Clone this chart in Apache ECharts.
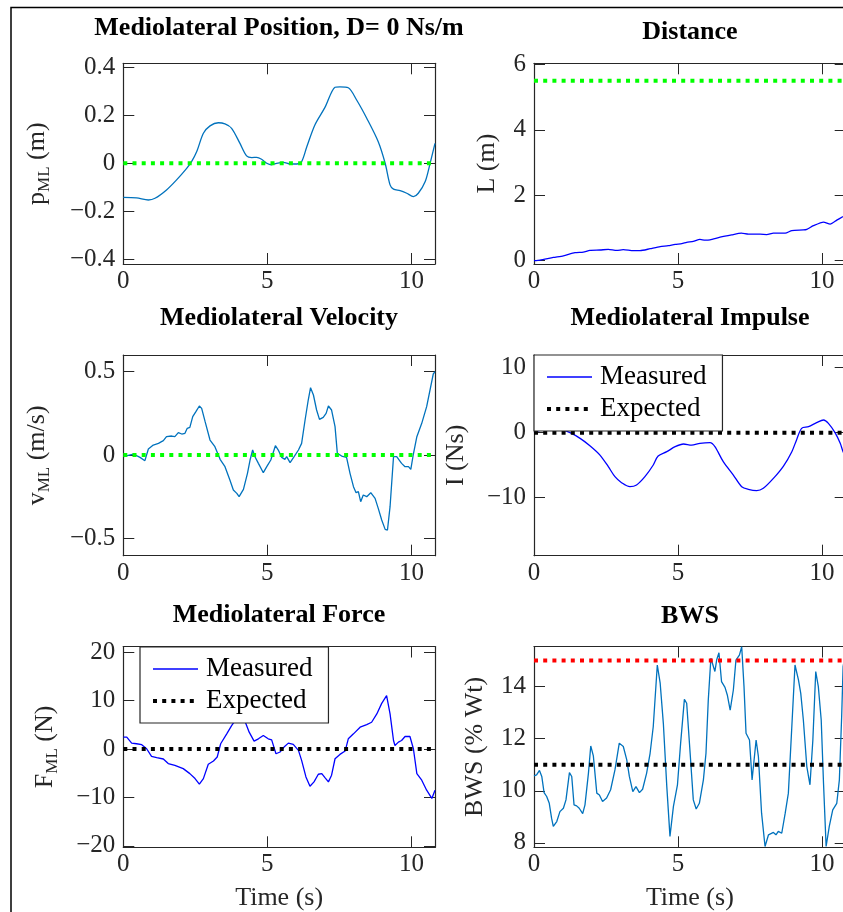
<!DOCTYPE html>
<html><head><meta charset="utf-8">
<script src="https://cdn.jsdelivr.net/npm/echarts@6/dist/echarts.min.js"></script>
<style>html,body{margin:0;padding:0;background:#fff}#c{width:843px;height:912px}</style>
</head><body><div id="c"></div>
<script>
// ---------- data ----------
const xTicks = [0, 5, 10];
const tEnd = 10.82;

const posT = [0,0.46,0.87,1.1,1.5,1.85,2.2,2.37,2.55,2.78,3.01,3.3,3.53,3.76,4.05,4.28,4.46,4.63,4.8,4.98,5.15,5.32,5.56,5.79,6.02,6.19,6.37,6.65,7.0,7.35,7.52,7.81,8.1,8.45,8.85,9.09,9.26,9.38,9.61,9.84,10.07,10.24,10.48,10.65,10.82];
const posV = [-0.142,-0.144,-0.153,-0.146,-0.111,-0.069,-0.021,0.007,0.049,0.125,0.156,0.169,0.164,0.146,0.083,0.031,0.024,0.025,0.017,0,-0.006,0,0.004,-0.003,-0.003,0.007,0.069,0.16,0.233,0.317,0.319,0.315,0.264,0.188,0.09,0,-0.09,-0.108,-0.114,-0.125,-0.139,-0.125,-0.076,0,0.083];
const posTicks = [-0.4,-0.2,0,0.2,0.4];
const posExpected = 0;

const distT = [0,0.21,0.67,1.02,1.42,1.71,1.94,2.29,2.58,2.87,3.1,3.45,3.68,4.03,4.38,4.66,4.9,5.13,5.3,5.53,5.76,5.94,6.11,6.46,6.86,7.2,7.44,7.85,8.08,8.31,8.72,8.95,9.35,9.47,9.7,10.05,10.28,10.51,10.73,10.82];
const distV = [0,0.02,0.1,0.15,0.245,0.265,0.316,0.327,0.347,0.316,0.337,0.306,0.306,0.367,0.43,0.46,0.5,0.52,0.56,0.59,0.65,0.63,0.64,0.72,0.79,0.84,0.81,0.81,0.8,0.84,0.84,0.92,0.94,0.96,1.07,1.18,1.12,1.24,1.35,1.4];
const distTicks = [0,2,4,6];
const distExpected = 5.5;

const velT = [0.02,0.17,0.35,0.58,0.75,0.87,1.04,1.22,1.39,1.5,1.68,1.79,1.91,2.03,2.14,2.22,2.31,2.41,2.52,2.64,2.72,2.84,3.01,3.18,3.36,3.53,3.7,3.82,3.94,4.02,4.17,4.31,4.4,4.49,4.57,4.69,4.86,4.98,5.12,5.28,5.38,5.5,5.61,5.67,5.79,5.93,6.08,6.19,6.31,6.42,6.5,6.6,6.71,6.81,6.94,7.04,7.12,7.23,7.35,7.43,7.58,7.75,7.87,7.99,8.08,8.16,8.24,8.33,8.45,8.59,8.74,8.85,8.97,9.09,9.17,9.26,9.38,9.49,9.66,9.78,9.9,9.98,10.07,10.19,10.36,10.53,10.76,10.82];
const velV = [-0.01,-0.002,0.006,-0.014,-0.034,0.036,0.06,0.07,0.086,0.11,0.114,0.11,0.134,0.126,0.13,0.16,0.166,0.23,0.26,0.294,0.28,0.2,0.09,0.05,-0.026,-0.07,-0.15,-0.21,-0.23,-0.25,-0.206,-0.11,-0.03,0.03,-0.01,-0.05,-0.106,-0.07,-0.03,0.056,0.03,-0.014,-0.026,-0.01,-0.046,-0.01,0.03,0.07,0.21,0.33,0.404,0.36,0.27,0.214,0.226,0.25,0.294,0.27,0.17,0.01,-0.006,-0.014,-0.11,-0.19,-0.226,-0.22,-0.28,-0.24,-0.25,-0.226,-0.26,-0.32,-0.39,-0.446,-0.45,-0.31,-0.01,-0.01,-0.05,-0.07,-0.07,-0.086,0.006,0.11,0.19,0.29,0.486,0.5];
const velTicks = [-0.5,0,0.5];
const velExpected = 0;

const impT = [0,0.3,0.6,0.9,1.25,1.6,1.94,2.29,2.58,2.81,3.04,3.33,3.56,3.85,4.14,4.31,4.61,4.9,5.19,5.47,5.76,6.11,6.28,6.57,6.92,7.21,7.44,7.73,7.96,8.31,8.66,8.95,9.12,9.29,9.53,9.81,10.05,10.22,10.45,10.63,10.73,10.82];
const impV = [0,0.5,0.8,0.6,0,-0.87,-2.0,-3.44,-5.23,-6.77,-7.69,-8.31,-8.05,-6.77,-4.97,-3.59,-2.92,-2.15,-1.74,-1.9,-1.64,-1.54,-2.15,-4.46,-6.51,-8.31,-8.72,-8.92,-8.56,-7.03,-5.13,-2.92,-1.03,0.67,0.92,1.54,1.95,1.44,0,-1.64,-2.92,-3.6];
const impTicks = [-10,0,10];
const impExpected = 0;

const forT = [0,0.12,0.29,0.46,0.64,0.81,0.98,1.16,1.39,1.56,1.79,2.08,2.31,2.49,2.64,2.78,2.95,3.13,3.26,3.38,3.59,3.76,3.88,4.0,4.12,4.26,4.37,4.54,4.69,4.86,5.03,5.15,5.3,5.44,5.58,5.73,5.9,6.08,6.19,6.34,6.48,6.62,6.77,6.89,7.0,7.12,7.23,7.35,7.52,7.7,7.81,7.99,8.22,8.45,8.62,8.8,8.97,9.14,9.26,9.38,9.43,9.55,9.66,9.78,9.95,10.07,10.19,10.36,10.53,10.71,10.76,10.82];
const forV = [2.47,2.47,1.23,1.1,0.9,0.07,-1.5,-1.78,-2.05,-3.0,-3.36,-4.04,-5.07,-6.1,-7.26,-6.1,-3.15,-2.47,-1.64,1.1,3.15,4.86,5.9,7.0,7.3,5.2,3.5,1.64,2.12,2.8,2.12,1.9,-0.96,-0.6,0.41,1.23,0.96,-0.27,-2.33,-5.75,-7.67,-6.78,-5.2,-5.07,-5.9,-6.78,-5.4,-2.0,-1.1,-0.41,2.12,3.15,4.52,5.07,5.55,7.26,9.45,11.03,7.26,1.78,0.75,1.44,1.78,2.6,2.6,0.07,-5.07,-6.44,-8.5,-10.2,-9.86,-8.5];
const forTicks = [-20,-10,0,10,20];
const forExpected = 0;

const bwsT = [0,0.09,0.19,0.27,0.35,0.44,0.53,0.61,0.67,0.79,0.9,1.02,1.11,1.23,1.31,1.39,1.48,1.57,1.69,1.77,1.89,1.97,2.06,2.18,2.27,2.38,2.52,2.66,2.81,2.96,3.1,3.22,3.31,3.43,3.54,3.66,3.77,3.91,4.03,4.14,4.28,4.38,4.49,4.61,4.72,4.84,4.98,5.09,5.22,5.3,5.42,5.53,5.63,5.74,5.88,5.97,6.05,6.14,6.2,6.28,6.34,6.42,6.51,6.63,6.71,6.81,6.92,7.01,7.13,7.21,7.29,7.36,7.48,7.57,7.62,7.71,7.79,7.9,8.02,8.14,8.31,8.4,8.48,8.6,8.72,8.83,8.95,9.06,9.18,9.26,9.35,9.47,9.58,9.68,9.78,9.87,9.97,10.05,10.14,10.25,10.37,10.51,10.6,10.68,10.73,10.82];
const bwsV = [10.57,10.61,10.78,10.55,9.93,9.78,9.52,8.95,8.63,8.82,9.2,9.33,9.65,10.7,10.55,9.46,9.42,9.33,9.12,9.46,10.68,11.72,11.34,9.91,9.84,9.59,9.72,10.04,10.8,11.83,11.7,11.19,10.55,9.97,10.16,9.93,10.06,10.68,11.44,12.47,14.83,14.13,12.59,10.16,8.25,9.4,10.23,11.83,13.51,13.36,11.44,9.65,9.3,9.52,10.42,11.44,13.49,15.09,15.13,14.58,15.02,15.3,14.19,13.97,13.68,13.1,13.87,15.02,15.21,15.53,14.0,12.21,11.95,10.42,10.42,11.95,11.31,9.14,7.86,8.31,8.4,8.31,8.44,8.37,9.14,9.91,12.47,14.83,14.26,13.74,12.72,10.93,10.23,11.95,14.58,14.0,12.72,10.29,7.86,8.63,9.27,9.52,10.42,12.85,14.77,15.3];
const bwsTicks = [8,10,12,14];
const bwsUpper = 15;
const bwsTarget = 11;

// ---------- layout / style ----------
const FONT = 'Liberation Serif';
const AX = '#262626';
const MBLUE = '#0072BD';
const PBLUE = '#0000FF';
const GREEN = '#00FF00';
const DOT = [4, 5.2];

const panels = [
  {left:123.3, top:63.3, h:200.7, ymin:-0.42, ymax:0.417, yt:posTicks, name:'p{sub|ML} (m)', gap:70},
  {left:534,   top:63.3, h:200.7, ymin:-0.1, ymax:6.03, yt:distTicks, name:'L (m)', gap:31},
  {left:123.3, top:355,  h:200.7, ymin:-0.604, ymax:0.6, yt:velTicks, name:'v{sub|ML} (m/s)', gap:70},
  {left:534,   top:355,  h:200.7, ymin:-18.92, ymax:11.95, yt:impTicks, name:'I (Ns)', gap:62},
  {left:123.3, top:646.5,h:200.8, ymin:-20.3, ymax:21.2, yt:forTicks, name:'F{sub|ML} (N)', gap:62},
  {left:534,   top:646.5,h:200.8, ymin:7.83, ymax:15.54, yt:bwsTicks, name:'BWS (% Wt)', gap:43}
];
const W = 311.7;
const fmt = v => String(v).replace('-', '\u2212');

const grid = [], xAxis = [], yAxis = [];
panels.forEach((p, i) => {
  grid.push({left:p.left, top:p.top, width:W, height:p.h, containLabel:false, outerBoundsMode:'none'});
  const tick = {show:true, inside:true, length:11, lineStyle:{color:AX, width:1}};
  const line = {show:true, onZero:false, lineStyle:{color:AX, width:1.2}};
  xAxis.push({type:'value', gridIndex:i, min:0, max:tEnd, position:'bottom',
    axisLine:line, splitLine:{show:false},
    axisTick:Object.assign({customValues:xTicks}, tick),
    axisLabel:{customValues:xTicks, formatter:fmt, fontFamily:FONT, fontSize:25, color:AX, margin:5},
    name: i >= 4 ? 'Time (s)' : '', nameLocation:'middle', nameGap:38,
    nameTextStyle:{fontFamily:FONT, fontSize:26, color:AX}});
  xAxis.push({type:'value', gridIndex:i, min:0, max:tEnd, position:'top',
    axisLine:line, splitLine:{show:false},
    axisTick:Object.assign({customValues:xTicks}, tick), axisLabel:{show:false}});
  yAxis.push({type:'value', gridIndex:i, min:p.ymin, max:p.ymax, position:'left',
    axisLine:line, splitLine:{show:false},
    axisTick:Object.assign({customValues:p.yt}, tick),
    axisLabel:{customValues:p.yt, formatter:fmt, fontFamily:FONT, fontSize:25, color:AX, margin:8},
    name:p.name, nameLocation:'middle', nameGap:p.gap, nameRotate:90,
    nameTextStyle:{fontFamily:FONT, fontSize:26, color:AX, lineHeight:32,
      rich:{sub:{fontFamily:FONT, fontSize:17, color:AX, lineHeight:16, verticalAlign:'bottom'}}}});
  yAxis.push({type:'value', gridIndex:i, min:p.ymin, max:p.ymax, position:'right',
    axisLine:line, splitLine:{show:false},
    axisTick:Object.assign({customValues:p.yt}, tick), axisLabel:{show:false}});
});

const pairs = (t, v) => t.map((x, k) => [x, v[k]]);
const hline = v => [[0, v], [tEnd, v]];
const dotted = (color) => ({color, width:4, type:DOT, cap:'butt'});
const lineS = (i, name, data, color, w) => ({type:'line', name, xAxisIndex:2*i, yAxisIndex:2*i, data,
  showSymbol:false, symbol:'none', lineStyle:{color, width:w||1.3}, itemStyle:{color}, animation:false, clip:true});
const dotS = (i, name, v, color) => ({type:'line', name, xAxisIndex:2*i, yAxisIndex:2*i, data:hline(v),
  showSymbol:false, symbol:'none', lineStyle:dotted(color), itemStyle:{color}, animation:false, z:3});

const series = [
  lineS(0, 'pos', pairs(posT, posV), MBLUE), dotS(0, 'posExp', posExpected, GREEN),
  lineS(1, 'dist', pairs(distT, distV), PBLUE), dotS(1, 'distExp', distExpected, GREEN),
  lineS(2, 'vel', pairs(velT, velV), MBLUE), dotS(2, 'velExp', velExpected, GREEN),
  lineS(3, 'Measured', pairs(impT, impV), PBLUE), dotS(3, 'Expected', impExpected, '#000'),
  lineS(4, 'Measured', pairs(forT, forV), PBLUE), dotS(4, 'Expected', forExpected, '#000'),
  lineS(5, 'bws', pairs(bwsT, bwsV), MBLUE), dotS(5, 'bwsTarget', bwsTarget, '#000'), dotS(5, 'bwsUpper', bwsUpper, '#FF0000')
];
series[0].smooth = 0.3; series[6].smooth = 0.3; series[2].smooth = 0.2;

const legendItems = [
  {name:'Measured', lineStyle:{width:1.3, color:PBLUE, type:'solid'}},
  {name:'Expected', lineStyle:{width:4, color:'#000', type:DOT, cap:'butt'}}
];
const legendBase = {data:legendItems, orient:'vertical', itemWidth:45, itemHeight:14, itemGap:4,
  padding:[8,16,8,11], borderColor:AX, borderWidth:1.2, backgroundColor:'#fff', selectedMode:false, z:20,
  itemStyle:{opacity:0, borderWidth:0},
  textStyle:{fontFamily:FONT, fontSize:27, color:'#000', lineHeight:28, padding:[0,0,0,3]}};
const legend = [
  Object.assign({left:534, top:355}, legendBase),
  Object.assign({left:140, top:647}, legendBase)
];

const titles = [
  ['Mediolateral Position, D= 0 Ns/m', 279, 28],
  ['Distance', 690, 32],
  ['Mediolateral Velocity', 279, 318],
  ['Mediolateral Impulse', 690, 318],
  ['Mediolateral Force', 279, 615],
  ['BWS', 690, 616]
];
const graphic = titles.map(([t, x, y]) => ({type:'text', x, y, z:50,
  style:{text:t, fontFamily:FONT, fontSize:26, fontWeight:'bold', fill:'#000', align:'center', verticalAlign:'middle', textAlign:'center', textVerticalAlign:'middle'}}));
graphic.push({type:'rect', shape:{x:11, y:7.5, width:900, height:1000}, style:{fill:'none', stroke:'#000', lineWidth:1.5}, z:50});

const chart = echarts.init(document.getElementById('c'), null, {renderer:'canvas'});
chart.setOption({animation:false, backgroundColor:'#fff', grid, xAxis, yAxis, series, legend, graphic});
</script></body></html>
